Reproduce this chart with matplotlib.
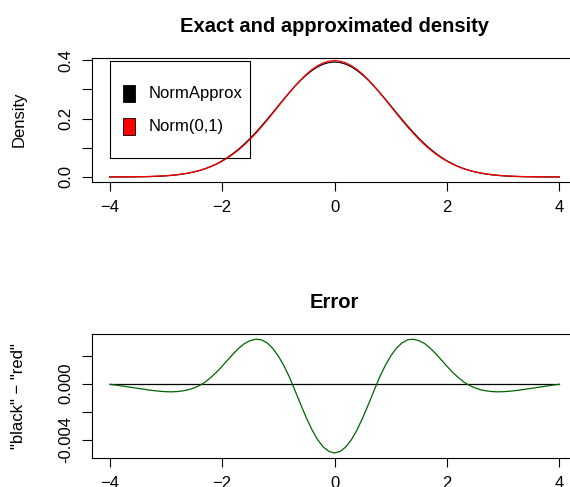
import numpy as np
import matplotlib
matplotlib.use('Agg')
import matplotlib.pyplot as plt
from matplotlib.patches import Rectangle

plt.rcParams['font.family'] = ['Liberation Sans', 'DejaVu Sans']

# sample points of the curves: x from -4 to 4, step 0.1
x_vals = [round(-4.0 + 0.1 * i, 1) for i in range(81)]

# Norm(0,1) density (red curve)
norm_dens = [0.0001, 0.0002, 0.0003, 0.0004, 0.0006, 0.0009, 0.0012, 0.0017, 0.0024, 0.0033,
             0.0044, 0.0060, 0.0079, 0.0104, 0.0136, 0.0175, 0.0224, 0.0283, 0.0355, 0.0440,
             0.0540, 0.0656, 0.0790, 0.0940, 0.1109, 0.1295, 0.1497, 0.1714, 0.1942, 0.2179,
             0.2420, 0.2661, 0.2897, 0.3123, 0.3332, 0.3521, 0.3683, 0.3814, 0.3910, 0.3970,
             0.3989,
             0.3970, 0.3910, 0.3814, 0.3683, 0.3521, 0.3332, 0.3123, 0.2897, 0.2661, 0.2420,
             0.2179, 0.1942, 0.1714, 0.1497, 0.1295, 0.1109, 0.0940, 0.0790, 0.0656, 0.0540,
             0.0440, 0.0355, 0.0283, 0.0224, 0.0175, 0.0136, 0.0104, 0.0079, 0.0060, 0.0044,
             0.0033, 0.0024, 0.0017, 0.0012, 0.0009, 0.0006, 0.0004, 0.0003, 0.0002, 0.0001]

# error curve: "black" - "red"
err_vals = [-0.00004, -0.00009, -0.00015, -0.00021, -0.00027, -0.00033, -0.00039, -0.00045, -0.00050, -0.00054,
            -0.00057, -0.00058, -0.00056, -0.00051, -0.00043, -0.00030, -0.00012, 0.00012, 0.00045, 0.00082,
            0.00125, 0.00170, 0.00215, 0.00255, 0.00288, 0.00308, 0.00318, 0.00314, 0.00292, 0.00253,
            0.00198, 0.00128, 0.00045, -0.00052, -0.00150, -0.00245, -0.00330, -0.00400, -0.00452, -0.00484,
            -0.00495,
            -0.00484, -0.00452, -0.00400, -0.00330, -0.00245, -0.00150, -0.00052, 0.00045, 0.00128, 0.00198,
            0.00253, 0.00292, 0.00314, 0.00318, 0.00308, 0.00288, 0.00255, 0.00215, 0.00170, 0.00125,
            0.00082, 0.00045, 0.00012, -0.00012, -0.00030, -0.00043, -0.00051, -0.00056, -0.00058, -0.00057,
            -0.00054, -0.00050, -0.00045, -0.00039, -0.00033, -0.00027, -0.00021, -0.00015, -0.00009, -0.00004]

x = np.array(x_vals)
red = np.array(norm_dens)
err = np.array(err_vals)
black = red + err   # NormApprox

legend_labels = ["NormApprox", "Norm(0,1)"]
legend_colors = ["black", "red"]

xticks = [-4, -2, 0, 2, 4]
xticklabels = ['\u22124', '\u22122', '0', '2', '4']
yticks_top = [0.0, 0.1, 0.2, 0.3, 0.4]
ylabels_top = ['0.0', '', '0.2', '', '0.4']
yticks_bot = [-0.004, -0.002, 0.0, 0.002]
ylabels_bot = ['-0.004', '', '0.000', '']

fig = plt.figure(figsize=(5.7, 4.87), dpi=100)
ax1 = fig.add_axes([0.1609, 0.6269, 0.852, 0.2550])
ax2 = fig.add_axes([0.1609, 0.0589, 0.852, 0.2546])

def style(ax, yt, yl):
    ax.set_xlim(-4.32, 4.32)
    ax.set_xticks(xticks)
    ax.set_xticklabels(xticklabels, fontsize=12)
    ax.set_yticks(yt)
    ax.set_yticklabels(yl, fontsize=12, rotation=90, va='center')
    ax.tick_params(direction='out', width=0.8, top=False, right=False)
    ax.tick_params(axis='x', length=6.5, pad=6.5)
    ax.tick_params(axis='y', length=7.5, pad=6)
    for s in ax.spines.values():
        s.set_linewidth(0.8)
        s.set_color('black')
    ax.yaxis.set_label_coords(-0.135, 0.5)

# top: densities
ax1.plot(x, black, color='black', lw=0.9)
ax1.plot(x, red, color='red', lw=0.9)
ax1.set_ylim(-0.0162, 0.4093)
style(ax1, yticks_top, ylabels_top)
ax1.set_ylabel('Density', fontsize=12)
ax1.set_title('Exact and approximated density', fontsize=14.5, fontweight='bold', pad=18.5)

# legend, R style (box at x=-4, y=0.4)
ax1.add_patch(Rectangle((-4.0, 0.0645), 2.49, 0.3331, fill=False, ec='black', lw=0.8))
for i, (lab, col) in enumerate(zip(legend_labels, legend_colors)):
    yc = 0.2862 - i * 0.1128
    ax1.add_patch(Rectangle((-3.769, yc - 0.0288), 0.2135, 0.0576, fc=col, ec='black', lw=0.6))
    ax1.text(-3.307, yc, lab, fontsize=12, va='center', ha='left')

# bottom: error
ax2.plot([x_vals[0], x_vals[-1]], [0, 0], color='black', lw=0.9)
ax2.plot(x, err, color='darkgreen', lw=0.9)
ax2.set_ylim(-0.00533, 0.00353)
style(ax2, yticks_bot, ylabels_bot)
ax2.set_ylabel('"black" \u2212 "red"', fontsize=12)
ax2.set_title('Error', fontsize=14.5, fontweight='bold', pad=19)

fig.savefig('out.png', dpi=100)
